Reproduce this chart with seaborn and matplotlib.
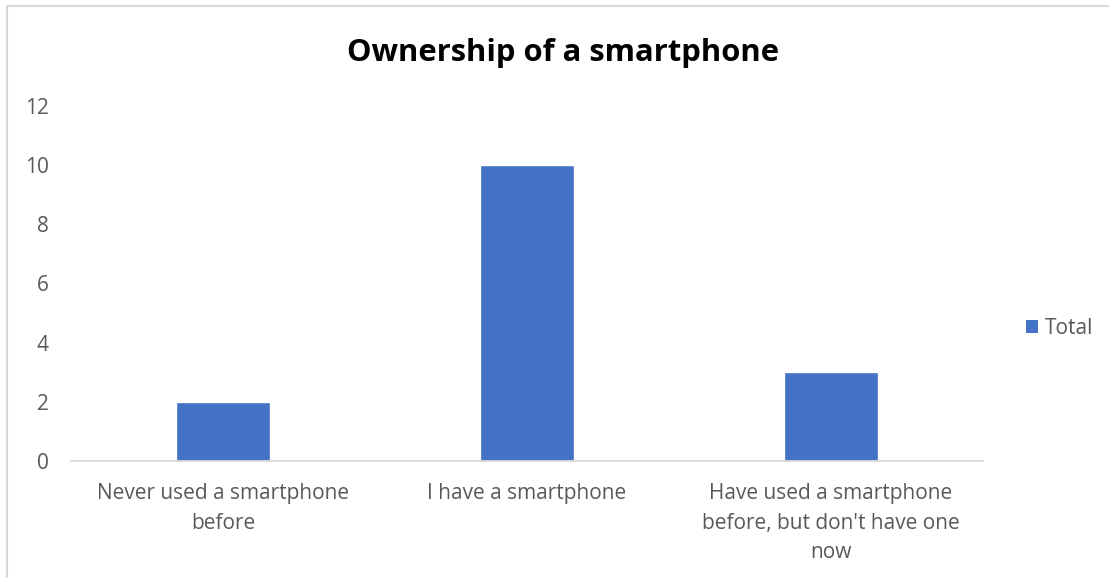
import matplotlib
matplotlib.use("Agg")
import matplotlib.pyplot as plt
from matplotlib.lines import Line2D
from matplotlib.patches import Patch
import seaborn as sns
import pandas as pd

categories = [
    "Never used a smartphone\nbefore",
    "I have a smartphone",
    "Have used a smartphone\nbefore, but don't have one\nnow",
]
totals = [2, 10, 3]
y_ticks = [0, 2, 4, 6, 8, 10, 12]

bar_color = "#4472C4"
text_gray = "#595959"
axis_gray = "#D9D9D9"

sns.set_theme(style="white")
plt.rcParams["font.family"] = ["Open Sans", "DejaVu Sans"]

df = pd.DataFrame({"category": categories, "Total": totals})

fig = plt.figure(figsize=(11.09, 5.78), dpi=100)
ax = fig.add_axes([0.064, 0.2024, 0.822, 0.615])

sns.barplot(data=df, x="category", y="Total", color=bar_color,
            width=0.31, saturation=1, ax=ax)

ax.set_ylim(0, 12)
ax.set_xlim(-0.5, 2.5)
ax.set_yticks(y_ticks)
ax.set_yticklabels([str(t) for t in y_ticks], fontsize=15, color=text_gray)
ax.set_xticklabels(categories, fontsize=15, color=text_gray, linespacing=1.53)
ax.tick_params(axis="both", length=0)
ax.tick_params(axis="y", pad=16)
ax.tick_params(axis="x", pad=16)
ax.set_xlabel("")
ax.set_ylabel("")
for side in ["top", "right", "left"]:
    ax.spines[side].set_visible(False)
ax.spines["bottom"].set_color(axis_gray)
ax.spines["bottom"].set_linewidth(1.3)

fig.text(0.508, 0.908, "Ownership of a smartphone", ha="center", va="center",
         fontsize=22.3, fontweight="bold", color="black")

handle = Patch(facecolor=bar_color, edgecolor="none")
fig.legend([handle], ["Total"], loc="center left", bbox_to_anchor=(0.908, 0.432),
           frameon=False, fontsize=15, labelcolor=text_gray,
           handlelength=0.6, handleheight=0.6, handletextpad=0.3)

# chart-area frame (left and top edges)
fig.add_artist(Line2D([0.0065, 0.0065], [0.0, 0.99], transform=fig.transFigure,
                      color=axis_gray, linewidth=1.5))
fig.add_artist(Line2D([0.0065, 1.0], [0.99, 0.99], transform=fig.transFigure,
                      color=axis_gray, linewidth=1.5))

fig.savefig("out.png", dpi=100, facecolor="white")
